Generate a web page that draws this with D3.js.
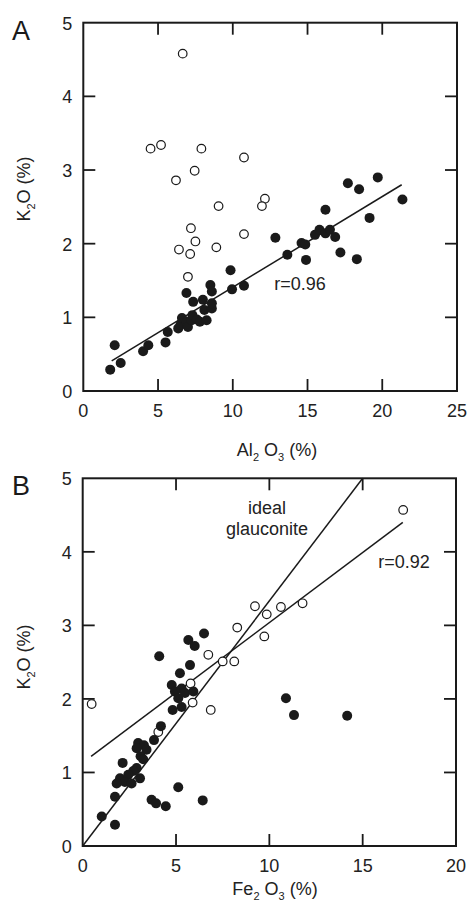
<!DOCTYPE html>
<html>
<head>
<meta charset="utf-8">
<script src="https://cdn.jsdelivr.net/npm/d3@7"></script>
<style>
  body { margin: 0; background: #fff; }
  svg { display: block; font-family: "Liberation Sans", Arial, sans-serif; }
</style>
</head>
<body>
<div id="chart"></div>
<script>
// ---- data ----
// panel A: K2O vs Al2O3
var aOpen = [[6.65,4.58],[4.5,3.29],[5.2,3.34],[7.9,3.29],[10.75,3.17],[6.2,2.86],[7.45,2.99],
  [9.05,2.51],[12.15,2.61],[11.95,2.51],[7.2,2.21],[7.5,2.03],[6.4,1.92],[7.15,1.86],[8.9,1.95],
  [10.75,2.13],[7.0,1.55]];
var aFilled = [[1.8,0.29],[2.1,0.62],[2.5,0.38],[4.0,0.54],[4.35,0.62],[5.5,0.66],[5.65,0.80],
  [6.35,0.85],[6.5,0.90],[6.6,0.99],[6.9,0.94],[7.0,0.87],[7.25,0.96],[7.3,1.03],[7.6,0.97],
  [7.8,0.94],[8.25,0.96],[8.1,1.10],[8.6,1.12],[6.9,1.33],[7.35,1.21],[8.0,1.24],[8.6,1.19],
  [8.5,1.44],[8.6,1.35],[9.85,1.64],[9.95,1.38],[10.75,1.43],[12.85,2.08],[13.65,1.85],
  [14.6,2.01],[14.85,1.99],[14.9,1.78],[15.5,2.12],[15.8,2.19],[16.2,2.14],[16.5,2.19],
  [16.85,2.09],[17.2,1.88],[18.3,1.79],[16.2,2.46],[17.7,2.82],[18.45,2.74],[19.7,2.90],
  [21.35,2.60],[19.15,2.35]];
var aFit = [[1.9,0.41],[21.3,2.80]];
var aXTicks = [0,5,10,15,20,25];
var aYTicks = [0,1,2,3,4,5];

// panel B: K2O vs Fe2O3
var bOpen = [[17.17,4.57],[9.23,3.26],[9.86,3.15],[10.62,3.25],[11.78,3.30],[8.28,2.97],
  [9.73,2.85],[6.73,2.60],[7.5,2.51],[8.12,2.51],[0.48,1.93],[5.78,2.21],[5.89,1.95],
  [6.86,1.85],[4.05,1.55]];
var bFilled = [[4.1,2.58],[5.66,2.80],[6.0,2.72],[6.5,2.89],[5.75,2.46],[5.21,2.35],[4.77,2.19],
  [4.94,2.10],[5.3,2.14],[5.48,2.08],[5.93,2.10],[5.12,2.01],[5.3,1.89],[4.82,1.85],
  [10.89,2.01],[11.32,1.78],[14.17,1.77],[4.19,1.63],[3.82,1.44],[2.97,1.40],[3.28,1.37],
  [2.89,1.33],[3.42,1.31],[3.1,1.22],[3.24,1.18],[2.14,1.13],[2.89,1.06],[2.71,1.02],
  [2.0,0.92],[2.44,0.97],[3.07,0.92],[2.26,0.87],[1.82,0.85],[2.62,0.85],[5.12,0.80],
  [1.73,0.67],[3.69,0.63],[3.93,0.58],[4.45,0.54],[6.43,0.62],[1.02,0.40],[1.73,0.29]];
var bFit = [[0.45,1.22],[17.15,4.40]];
var bIdeal = [[0,0],[15,5]];
var bXTicks = [0,5,10,15,20];
var bYTicks = [0,1,2,3,4,5];

var W = 470, H = 903;
var svg = d3.select("#chart").append("svg")
  .attr("width", W).attr("height", H);

// draws one framed scatter panel
function panel(opt) {
  var x = d3.scaleLinear().domain(opt.xDomain).range([opt.left, opt.right]);
  var y = d3.scaleLinear().domain([0, 5]).range([opt.bottom, opt.top]);
  var g = svg.append("g");
  var tk = 12;

  // inward ticks on all four sides
  var xs = opt.xTicks.slice(1, -1), ys = opt.yTicks.slice(1, -1);
  g.selectAll(".tb").data(xs).enter().append("line")
    .attr("x1", d => x(d)).attr("x2", d => x(d))
    .attr("y1", opt.bottom).attr("y2", opt.bottom - tk);
  g.selectAll(".tt").data(xs).enter().append("line")
    .attr("x1", d => x(d)).attr("x2", d => x(d))
    .attr("y1", opt.top).attr("y2", opt.top + tk);
  g.selectAll(".tl").data(ys).enter().append("line")
    .attr("y1", d => y(d)).attr("y2", d => y(d))
    .attr("x1", opt.left).attr("x2", opt.left + tk);
  g.selectAll(".tr").data(ys).enter().append("line")
    .attr("y1", d => y(d)).attr("y2", d => y(d))
    .attr("x1", opt.right).attr("x2", opt.right - tk);
  g.selectAll("line").attr("stroke", "#1a1a1a").attr("stroke-width", 1.8);

  g.append("rect")
    .attr("x", opt.left).attr("y", opt.top)
    .attr("width", opt.right - opt.left).attr("height", opt.bottom - opt.top)
    .attr("fill", "none").attr("stroke", "#1a1a1a").attr("stroke-width", 2);

  // tick labels
  g.selectAll(".xl").data(opt.xTicks).enter().append("text")
    .attr("x", d => x(d)).attr("y", opt.bottom + 26)
    .attr("text-anchor", "middle").attr("font-size", 18).attr("fill", "#222")
    .text(d => d);
  g.selectAll(".yl").data(opt.yTicks).enter().append("text")
    .attr("x", opt.left - 11).attr("y", d => y(d) + 7)
    .attr("text-anchor", "end").attr("font-size", 18).attr("fill", "#222")
    .text(d => d);

  // lines
  var line = d3.line().x(d => x(d[0])).y(d => y(d[1]));
  opt.lines.forEach(function (l) {
    g.append("path").attr("d", line(l)).attr("fill", "none")
      .attr("stroke", "#1a1a1a").attr("stroke-width", 1.5);
  });

  // points
  g.selectAll(".op").data(opt.open).enter().append("circle")
    .attr("cx", d => x(d[0])).attr("cy", d => y(d[1])).attr("r", 4.3)
    .attr("fill", "#fff").attr("stroke", "#1a1a1a").attr("stroke-width", 1.2);
  g.selectAll(".fp").data(opt.filled).enter().append("circle")
    .attr("cx", d => x(d[0])).attr("cy", d => y(d[1])).attr("r", 5)
    .attr("fill", "#1a1a1a");

  // panel letter
  g.append("text").attr("x", 12).attr("y", opt.top + 17)
    .attr("font-size", 27).attr("fill", "#1a1a1a").text(opt.letter);

  // y title K2O (%)
  var yt = g.append("text")
    .attr("transform", "translate(30," + opt.yTitleY + ") rotate(-90)")
    .attr("text-anchor", "middle").attr("font-size", 18).attr("fill", "#222");
  yt.append("tspan").text("K");
  yt.append("tspan").attr("font-size", 11).attr("dy", 5).text("2");
  yt.append("tspan").attr("dy", -5).text("O (%)");

  // x title
  var xt = g.append("text")
    .attr("x", opt.xTitleX).attr("y", opt.xTitleBase)
    .attr("text-anchor", "middle").attr("font-size", 18).attr("fill", "#222");
  xt.append("tspan").text(opt.xName);
  xt.append("tspan").attr("font-size", 11).attr("dy", 5).text("2");
  xt.append("tspan").attr("dy", -5).text(" O");
  xt.append("tspan").attr("font-size", 11).attr("dy", 5).text("3");
  xt.append("tspan").attr("dy", -5).text(" (%)");

  return { g: g, x: x, y: y };
}

var pA = panel({
  left: 83.3, right: 457, top: 22.7, bottom: 391, xDomain: [0, 25],
  xTicks: aXTicks, yTicks: aYTicks, open: aOpen, filled: aFilled,
  lines: [aFit], letter: "A", yTitleY: 189, xTitleX: 277, xTitleBase: 456, xName: "Al"
});
pA.g.append("text").attr("x", 300).attr("y", 290).attr("text-anchor", "middle")
  .attr("font-size", 18).attr("fill", "#222").text("r=0.96");

var pB = panel({
  left: 82.7, right: 456, top: 478.3, bottom: 846, xDomain: [0, 20],
  xTicks: bXTicks, yTicks: bYTicks, open: bOpen, filled: bFilled,
  lines: [bIdeal, bFit], letter: "B", yTitleY: 657, xTitleX: 275, xTitleBase: 895, xName: "Fe"
});
pB.g.append("text").attr("x", 267).attr("y", 514).attr("text-anchor", "middle")
  .attr("font-size", 18).attr("fill", "#222").text("ideal");
pB.g.append("text").attr("x", 267).attr("y", 535).attr("text-anchor", "middle")
  .attr("font-size", 18).attr("fill", "#222").text("glauconite");
pB.g.append("text").attr("x", 404).attr("y", 568).attr("text-anchor", "middle")
  .attr("font-size", 18).attr("fill", "#222").text("r=0.92");
</script>
</body>
</html>
